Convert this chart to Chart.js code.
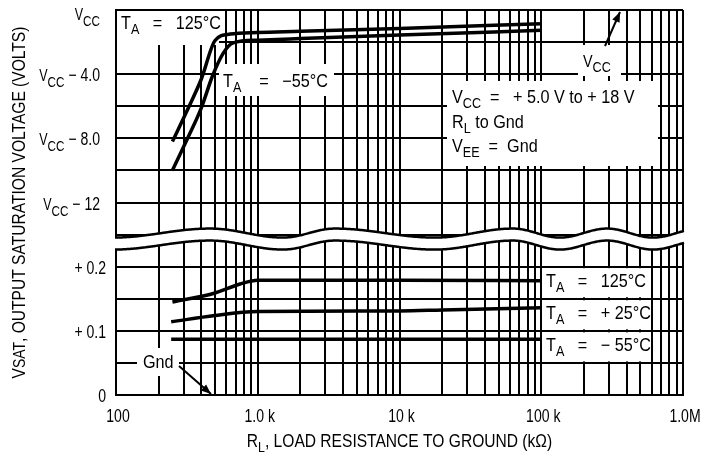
<!DOCTYPE html>
<html>
<head>
<meta charset="utf-8">
<script src="https://cdn.jsdelivr.net/npm/chart.js@4"></script>
<style>
html,body{margin:0;padding:0;background:#fff}
</style>
</head>
<body>
<canvas id="c" width="701" height="458"></canvas>
<script>
const FONT = '"Liberation Sans", Arial, sans-serif'

// load resistance (ohms) and output levels
// upper part: volts below Vcc
const rHigh125 = [250, 320, 400, 500, 640, 1000, 2000, 10000, 100000]
const dropHigh125 = [8.2, 6.2, 4.3, 1.9, 1.5, 1.4, 1.33, 1.15, 0.85]
const rHighM55 = [250, 320, 400, 480, 570, 670, 1000, 2000, 10000, 100000]
const dropHighM55 = [10.0, 8.0, 6.1, 4.1, 2.7, 2.05, 1.88, 1.78, 1.56, 1.27]
// lower part: volts above ground
const rLow125 = [250, 500, 750, 1000, 10000, 100000]
const vLow125 = [0.145, 0.159, 0.173, 0.179, 0.179, 0.178]
const rLow25 = [245, 500, 1000, 10000, 20000, 100000]
const vLow25 = [0.114, 0.124, 0.130, 0.131, 0.1325, 0.136]
const rLowM55 = [245, 100000]
const vLowM55 = [0.087, 0.087]

// axis ticks
const xDecades = [100, 1000, 10000, 100000, 1000000]
const xDecadeText = ['100', '1.0 k', '10 k', '100 k', '1.0M']
const yLowTicks = [0, 0.1, 0.2]
const yLowText = ['0', '+ 0.1', '+ 0.2']
const yHighTicks = [12, 8, 4, 0]
const yHighText = [' \u2212 12', ' \u2212 8.0', ' \u2212 4.0', '']

// broken axis: one plot unit = 0.1 V below the break, 4 V above it
const lowU = v => v * 10
const highU = d => 6 - d / 4

function pts(xs, ys, f){
  return xs.map((x, i) => ({x: x, y: f(ys[i])}))
}

// text with sub/superscripts, squeezed horizontally by sx (condensed look)
function rich(ctx, x, y, parts, align, sx){
  sx = sx || 0.9
  let w = 0
  parts.forEach(p => { ctx.font = p[1] + 'px ' + FONT; w += ctx.measureText(p[0]).width })
  let cx = align === 'right' ? -w : (align === 'center' ? -w / 2 : 0)
  ctx.save()
  ctx.translate(x, y)
  ctx.scale(sx, 1)
  ctx.textAlign = 'left'
  ctx.textBaseline = 'alphabetic'
  parts.forEach(p => {
    ctx.font = p[1] + 'px ' + FONT
    ctx.fillText(p[0], cx, p[2] || 0)
    cx += ctx.measureText(p[0]).width
  })
  ctx.restore()
}

function arrow(ctx, x1, y1, x2, y2){
  ctx.beginPath(); ctx.moveTo(x1, y1); ctx.lineTo(x2, y2); ctx.stroke()
  const a = Math.atan2(y2 - y1, x2 - x1), L = 10, W = 4
  ctx.beginPath()
  ctx.moveTo(x2, y2)
  ctx.lineTo(x2 - L * Math.cos(a) + W * Math.sin(a), y2 - L * Math.sin(a) - W * Math.cos(a))
  ctx.lineTo(x2 - L * Math.cos(a) - W * Math.sin(a), y2 - L * Math.sin(a) + W * Math.cos(a))
  ctx.closePath(); ctx.fill()
}

// wavy break, extremes of the hand drawn line (x in px, +1 = down)
const waveX = [113, 210, 283, 335, 435, 513, 560, 607, 653, 700]
function waveAt(x){
  for (let i = 0; i < waveX.length - 1; i++){
    if (x <= waveX[i + 1]){
      const t = Math.max(0, (x - waveX[i]) / (waveX[i + 1] - waveX[i]))
      const s = i % 2 === 0 ? 1 : -1
      return s * Math.cos(Math.PI * t)
    }
  }
  return -1
}

const decor = {
  id: 'decor',
  beforeDatasetsDraw(chart){
    const ctx = chart.ctx, a = chart.chartArea
    const X = chart.scales.x, Y = chart.scales.y
    const px = v => X.getPixelForValue(v), py = v => Y.getPixelForValue(v)
    ctx.save()
    ctx.fillStyle = '#fff'
    // label backgrounds
    ctx.fillRect(a.left + 1, a.top + 1, 102, 34)
    ctx.fillRect(219, 64, 115, 32)
    ctx.fillRect(578, 45, 43, 31)
    ctx.fillRect(447, 81, 211, 85)
    ctx.fillRect(137, 348, 42, 28)
    const rows = [2, 1.5, 1, 0.5]
    for (let i = 0; i < 3; i++){
      ctx.fillRect(543, py(rows[i]) + 1.5, 106, py(rows[i + 1]) - py(rows[i]) - 3)
    }
    // break band
    const yc = py(2.43), amp = 4.5, half = 6
    ctx.beginPath()
    for (let x = a.left - 2; x <= a.right + 2; x++) ctx.lineTo(x, yc - half + amp * waveAt(x))
    for (let x = a.right + 2; x >= a.left - 2; x--) ctx.lineTo(x, yc + half + amp * waveAt(x))
    ctx.closePath(); ctx.fill()
    ctx.strokeStyle = '#000'; ctx.lineWidth = 2.5
    for (const off of [-half, half]){
      ctx.beginPath()
      for (let x = a.left - 1; x <= a.right + 1; x++) ctx.lineTo(x, yc + off + amp * waveAt(x))
      ctx.stroke()
    }
    // texts
    ctx.fillStyle = '#000'
    rich(ctx, 121, 29, [['T', 18], ['A', 14, 5], ['   =   125\u00b0C', 18]])
    rich(ctx, 223, 87, [['T', 18], ['A', 14, 5], ['    =   \u221255\u00b0C', 18]])
    rich(ctx, 583, 67, [['V', 16], ['CC', 14, 5]])
    rich(ctx, 452, 103, [['V', 18], ['CC', 14, 5], ['  =   + 5.0 V to + 18 V', 18]])
    rich(ctx, 452, 128, [['R', 18], ['L', 14, 5], [' to Gnd', 18]])
    rich(ctx, 452, 152, [['V', 18], ['EE', 14, 5], ['  =  Gnd', 18]])
    rich(ctx, 143, 368, [['Gnd', 18]])
    const tl = ['   =   125\u00b0C', '   =   + 25\u00b0C', '   =   \u2212 55\u00b0C']
    for (let i = 0; i < 3; i++){
      const yy = (py(rows[i]) + py(rows[i + 1])) / 2 + 4
      rich(ctx, 546, yy, [['T', 18], ['A', 14, 5], [tl[i], 18]])
    }
    // arrows
    ctx.lineWidth = 2
    arrow(ctx, 179, 366, 211, 394)
    arrow(ctx, 605, 46, 620, 12)
    // tick labels
    yLowTicks.forEach((v, i) => rich(ctx, 106, py(lowU(v)) + 7, [[yLowText[i], 18]], 'right', 0.78))
    yHighTicks.forEach((d, i) => {
      const y = py(highU(d)) + (d === 0 ? 3 : 0)
      rich(ctx, 100, y + 7, [['V', 16], ['CC', 15, 6], [yHighText[i], 18]], 'right', 0.78)
    })
    xDecades.forEach((v, i) => rich(ctx, px(v) + 2, 422, [[xDecadeText[i], 18]], 'center', 0.78))
    // axis titles
    rich(ctx, (a.left + a.right) / 2, 447, [['R', 19], ['L', 15, 5], [', LOAD RESISTANCE TO GROUND (k\u03a9)', 19]], 'center', 0.82)
    ctx.translate(25, (a.top + a.bottom) / 2)
    ctx.rotate(-Math.PI / 2)
    rich(ctx, 0, 0, [['V', 19], ['SAT', 17], [', OUTPUT SATURATION VOLTAGE (VOLTS)', 19]], 'center', 0.82)
    ctx.restore()
  }
}

const line = {borderColor: '#000', borderWidth: 3.5, pointRadius: 0, fill: false, cubicInterpolationMode: 'monotone'}

new Chart(document.getElementById('c'), {
  type: 'line',
  data: {
    datasets: [
      Object.assign({label: 'TA = 125\u00b0C (high)', data: pts(rHigh125, dropHigh125, highU)}, line),
      Object.assign({label: 'TA = -55\u00b0C (high)', data: pts(rHighM55, dropHighM55, highU)}, line),
      Object.assign({label: 'TA = 125\u00b0C', data: pts(rLow125, vLow125, lowU)}, line),
      Object.assign({label: 'TA = +25\u00b0C', data: pts(rLow25, vLow25, lowU)}, line),
      Object.assign({label: 'TA = -55\u00b0C', data: pts(rLowM55, vLowM55, lowU)}, line)
    ]
  },
  options: {
    responsive: false,
    animation: false,
    layout: {padding: {left: 116, top: 10, right: 18, bottom: 63}},
    plugins: {legend: {display: false}, tooltip: {enabled: false}},
    scales: {
      x: {
        type: 'logarithmic',
        min: 100,
        max: 1000000,
        afterBuildTicks: s => {
          const t = []
          for (let e = 2; e < 6; e++) for (let m = 1; m < 10; m++) t.push({value: m * Math.pow(10, e)})
          t.push({value: 1000000})
          s.ticks = t
        },
        ticks: {display: false},
        grid: {color: '#000', lineWidth: 2, drawTicks: false},
        border: {color: '#000', width: 2}
      },
      y: {
        min: 0,
        max: 6,
        afterBuildTicks: s => {
          const t = []
          for (let u = 0; u <= 6; u += 0.5) t.push({value: u})
          s.ticks = t
        },
        ticks: {display: false},
        grid: {color: '#000', lineWidth: 2, drawTicks: false},
        border: {color: '#000', width: 2}
      }
    }
  },
  plugins: [decor]
})
</script>
</body>
</html>
